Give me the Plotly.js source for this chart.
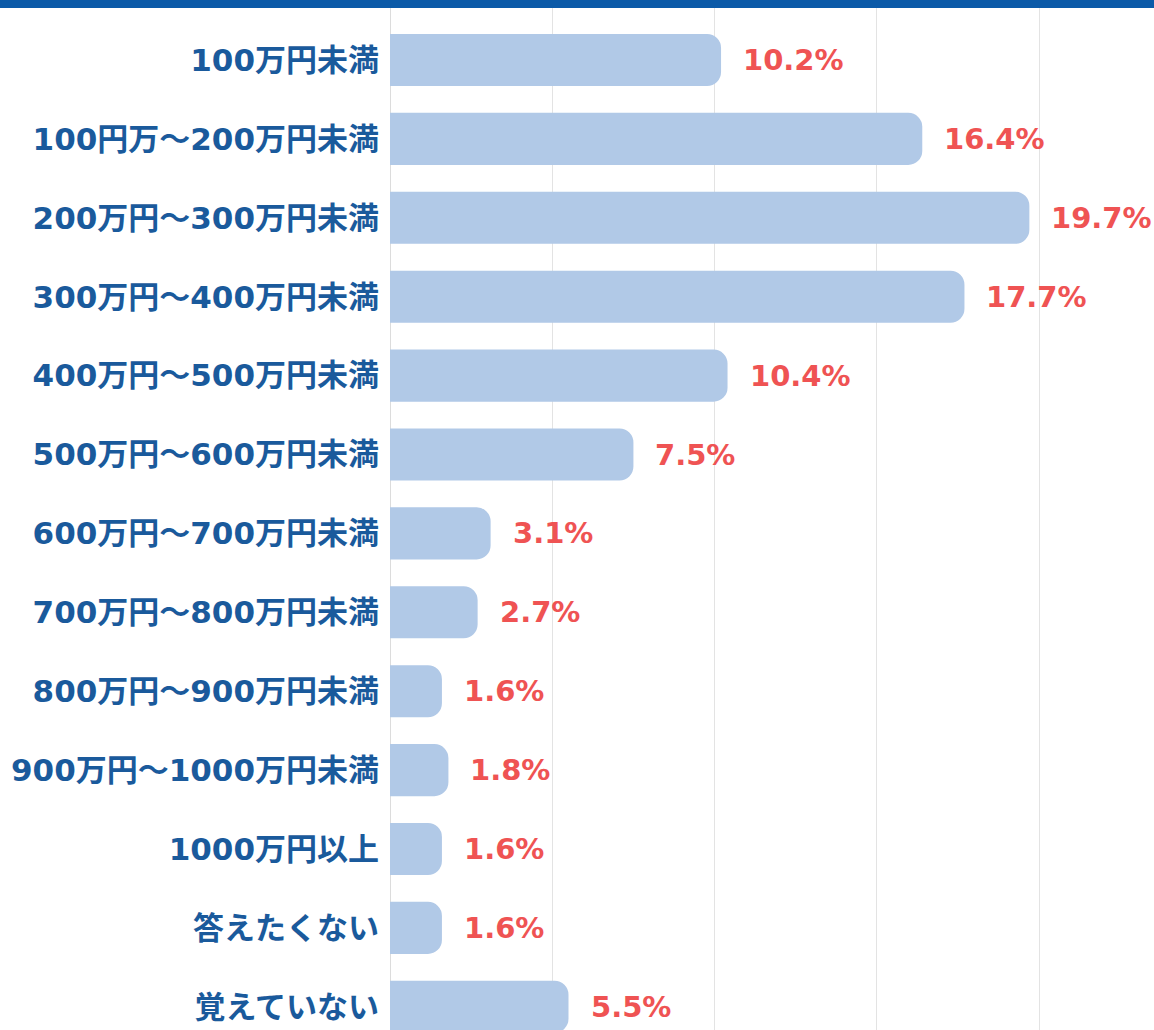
<!DOCTYPE html>
<html>
<head>
<meta charset="utf-8">
<script src="https://cdn.plot.ly/plotly-3.0.1.min.js"></script>
<style>
html,body{margin:0;padding:0;background:#fff;overflow:hidden;}
#band{position:absolute;left:0;top:0;width:1154px;height:8px;background:#0b5aa8;z-index:5;}
#chart{position:absolute;left:0;top:0;width:1154px;height:1030px;}
</style>
</head>
<body>
<div id="band"></div>
<div id="chart"></div>
<script>
const categories = [
  "100万円未満",
  "100円万～200万円未満",
  "200万円～300万円未満",
  "300万円～400万円未満",
  "400万円～500万円未満",
  "500万円～600万円未満",
  "600万円～700万円未満",
  "700万円～800万円未満",
  "800万円～900万円未満",
  "900万円～1000万円未満",
  "1000万円以上",
  "答えたくない",
  "覚えていない"
];
const values = [10.2, 16.4, 19.7, 17.7, 10.4, 7.5, 3.1, 2.7, 1.6, 1.8, 1.6, 1.6, 5.5];
const valueLabels = values.map(v => v.toFixed(1) + "%");

const FONT = '"DejaVu Sans", "Noto Sans CJK JP", sans-serif';

const trace = {
  type: 'bar',
  orientation: 'h',
  x: values,
  y: categories,
  width: 0.66,
  marker: {color: '#b1c9e7', cornerradius: 14},
  hoverinfo: 'none'
};

const annotations = values.map((v, i) => ({
  x: v, y: categories[i], xref: 'x', yref: 'y',
  text: valueLabels[i], showarrow: false,
  xanchor: 'left', yanchor: 'middle', xshift: 20, yshift: 0,
  font: {family: FONT, size: 29, color: '#ef5353', weight: 700}
}));

const layout = {
  width: 1154, height: 1030,
  margin: {l: 390, r: 0, t: 8, b: 0, pad: 0},
  paper_bgcolor: '#ffffff',
  plot_bgcolor: '#ffffff',
  showlegend: false,
  xaxis: {
    range: [0, 23.54],
    dtick: 5, tick0: 0,
    showticklabels: false,
    showgrid: true, gridcolor: '#e3e3e3', gridwidth: 1,
    zeroline: true, zerolinecolor: '#dcdcdc', zerolinewidth: 1,
    showline: false, fixedrange: true
  },
  yaxis: {
    type: 'category',
    range: [12.294, -0.659],
    showgrid: false, zeroline: false, showline: false,
    ticks: '', ticklabelstandoff: 10,
    tickfont: {family: FONT, size: 31, color: '#1a5a9c', weight: 700},
    fixedrange: true
  },
  annotations: annotations
};

Plotly.newPlot('chart', [trace], layout, {displayModeBar: false, staticPlot: true});
</script>
</body>
</html>
